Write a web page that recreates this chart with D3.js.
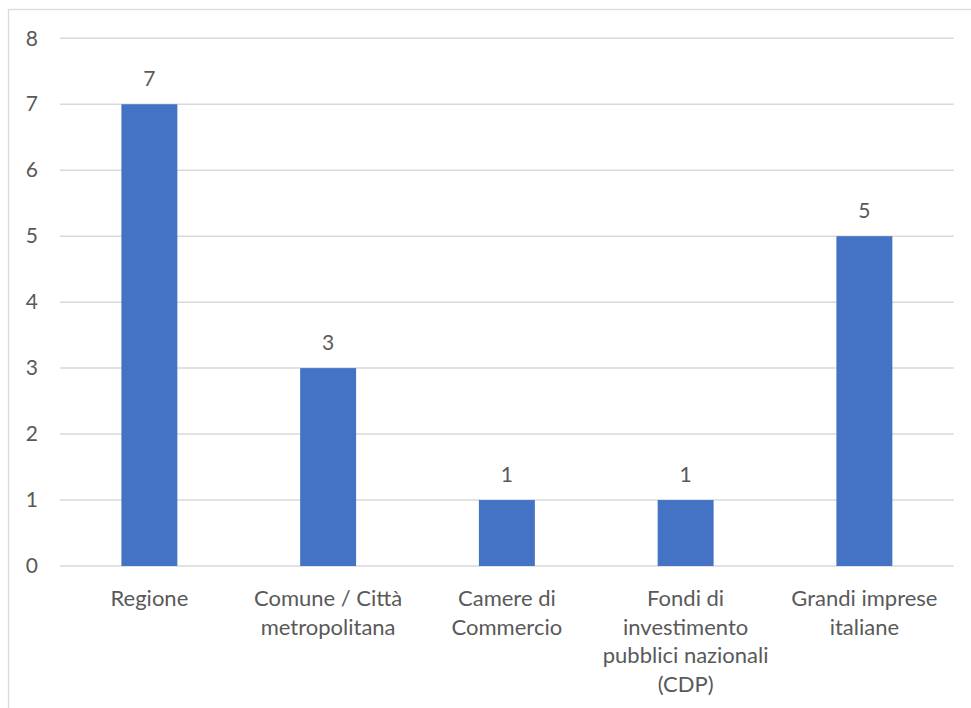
<!DOCTYPE html>
<html>
<head>
<meta charset="utf-8">
<script src="https://cdn.jsdelivr.net/npm/d3@7"></script>
<style>
  html, body { margin: 0; padding: 0; background: #fff; }
  svg { display: block; }
  text { font-family: Lato, "Open Sans", sans-serif; fill: #595959; }
</style>
</head>
<body>
<svg id="chart" width="971" height="708"></svg>
<script>
// Category labels (line breaks as shown on the axis)
const categories = [
  ["Regione"],
  ["Comune / Città", "metropolitana"],
  ["Camere di", "Commercio"],
  ["Fondi di", "investimento", "pubblici nazionali", "(CDP)"],
  ["Grandi imprese", "italiane"]
];
const values = [7, 3, 1, 1, 5];
const yTicks = [0, 1, 2, 3, 4, 5, 6, 7, 8];

const svg = d3.select("#chart");
const W = 971, H = 708;
const plot = { left: 60, right: 953.75, top: 38.3, bottom: 566 };

// outer frame of the chart area
svg.append("rect")
  .attr("x", 8.5).attr("y", 9.5)
  .attr("width", W + 20).attr("height", H + 20)
  .attr("fill", "#fff").attr("stroke", "#d9d9d9").attr("stroke-width", 1.3);

const keys = categories.map((c, i) => i);
const x = d3.scaleBand()
  .domain(keys)
  .range([plot.left, plot.right])
  .paddingInner(0.687)
  .paddingOuter(0.687 / 2);

const y = d3.scaleLinear()
  .domain([0, 8])
  .range([plot.bottom, plot.top]);

// horizontal gridlines
svg.append("g")
  .selectAll("line")
  .data(yTicks)
  .join("line")
  .attr("x1", plot.left).attr("x2", plot.right)
  .attr("y1", d => y(d)).attr("y2", d => y(d))
  .attr("stroke", "#d9d9d9").attr("stroke-width", 1.5);

// y-axis tick labels
const yAxis = d3.axisLeft(y).tickValues(yTicks).tickSize(0).tickPadding(0);
const gy = svg.append("g").attr("transform", `translate(38,0)`).call(yAxis);
gy.select(".domain").remove();
gy.selectAll("text")
  .attr("font-size", 21)
  .attr("font-family", "Lato, 'Open Sans', sans-serif")
  .attr("fill", "#595959");

// bars
svg.append("g")
  .selectAll("rect")
  .data(values)
  .join("rect")
  .attr("x", (d, i) => x(i))
  .attr("width", x.bandwidth())
  .attr("y", d => y(d))
  .attr("height", d => y(0) - y(d))
  .attr("fill", "#4472c4");

// value labels above bars
svg.append("g")
  .selectAll("text")
  .data(values)
  .join("text")
  .attr("x", (d, i) => x(i) + x.bandwidth() / 2)
  .attr("y", d => y(d) - 18.5)
  .attr("text-anchor", "middle")
  .attr("font-size", 21)
  .text(d => d);

// category labels
const xl = svg.append("g");
categories.forEach((lines, i) => {
  const t = xl.append("text")
    .attr("x", x(i) + x.bandwidth() / 2)
    .attr("y", 606)
    .attr("text-anchor", "middle")
    .attr("font-size", 22);
  lines.forEach((ln, j) => {
    t.append("tspan")
      .attr("x", x(i) + x.bandwidth() / 2)
      .attr("dy", j === 0 ? 0 : 28.7)
      .text(ln);
  });
});
</script>
</body>
</html>
